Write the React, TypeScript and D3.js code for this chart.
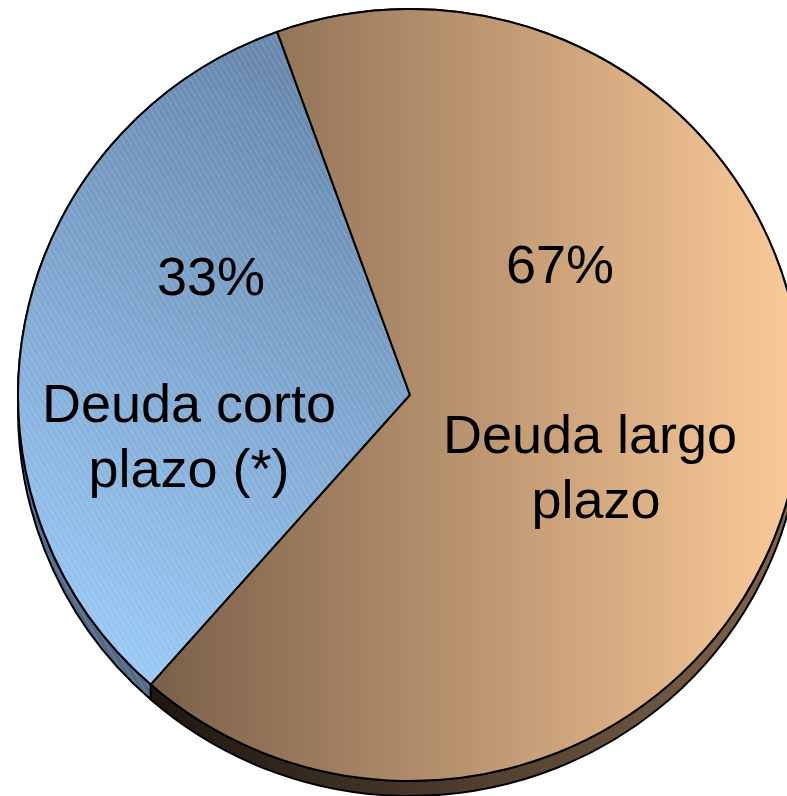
import * as d3 from 'd3';

// values
const categories = ['Deuda corto plazo (*)', 'Deuda largo plazo'];
const shares = [33, 67];
const pctLabels = ['33%', '67%'];
const nameLines = [['Deuda corto', 'plazo (*)'], ['Deuda largo', 'plazo']];

const W = 787, H = 796;
const cx = 410, cy = 395, rx = 392, ry = 386, depth = 15;
const startDeg = -138.6;

export default function App() {
  const pie = d3.pie<number>().sort(null)
    .startAngle(startDeg * Math.PI / 180)
    .endAngle((startDeg + 360) * Math.PI / 180);
  const slices = pie(shares);
  const arc = d3.arc<d3.PieArcDatum<number>>().innerRadius(0).outerRadius(rx);
  const sy = ry / rx;
  const d = depth / sy;

  // side band of a slice: outer rim on top, same rim pushed down by depth
  const bandPath = (a0: number, a1: number) => {
    const p = d3.path();
    p.moveTo(rx * Math.sin(a0), -rx * Math.cos(a0));
    p.arc(0, 0, rx, a0 - Math.PI / 2, a1 - Math.PI / 2);
    p.lineTo(rx * Math.sin(a1), -rx * Math.cos(a1) + d);
    p.arc(0, d, rx, a1 - Math.PI / 2, a0 - Math.PI / 2, true);
    p.closePath();
    return p.toString();
  };

  const faceFill = ['url(#blueFace)', 'url(#brownFace)'];
  const sideFill = ['#52698a', 'url(#brownSide)'];

  // label anchors (centre x, baseline y of first line)
  const pctPos = [[211, 295], [560, 283]];
  const namePos = [[189, 422], [590, 453]];

  return (
    <svg width={W} height={H} style={{ position: 'absolute', left: 0, top: 0, background: '#fff' }}
      fontFamily="'Liberation Sans', Arial, sans-serif">
      <defs>
        <linearGradient id="brownFace" gradientUnits="userSpaceOnUse" x1={152 - cx} y1={0} x2={800 - cx} y2={0}>
          <stop offset="0" stopColor="#7a6049" />
          <stop offset="1" stopColor="#fdcb99" />
        </linearGradient>
        <linearGradient id="brownSide" gradientUnits="userSpaceOnUse" x1={152 - cx} y1={0} x2={790 - cx} y2={0}>
          <stop offset="0" stopColor="#1e1610" />
          <stop offset="1" stopColor="#80654c" />
        </linearGradient>
        <linearGradient id="blueFace" gradientUnits="userSpaceOnUse" x1={60 - cx} y1={(640 - cy) / sy} x2={330 - cx} y2={(100 - cy) / sy}>
          <stop offset="0" stopColor="#99c9f6" />
          <stop offset="1" stopColor="#6888ae" />
        </linearGradient>
        <pattern id="hatch" width="5" height="5" patternUnits="userSpaceOnUse" patternTransform="rotate(-30)">
          <line x1="0" y1="0" x2="0" y2="5" stroke="#ffffff" strokeOpacity="0.4" strokeWidth="0.8" />
        </pattern>
      </defs>
      <g transform={`translate(${cx},${cy}) scale(1,${sy})`}>
        {slices.map((s, i) => (
          <g key={'side' + i}>
            <path d={bandPath(s.startAngle, s.endAngle)} fill={sideFill[i]} />
            {i === 0 && <path d={bandPath(s.startAngle, s.endAngle)} fill="url(#hatch)" />}
            <path d={bandPath(s.startAngle, s.endAngle)} fill="none" stroke="#000" strokeWidth={2} strokeLinejoin="round" />
          </g>
        ))}
        {slices.map((s, i) => (
          <g key={'face' + i}>
            <path d={arc(s) ?? ''} fill={faceFill[i]} />
            {i === 0 && <path d={arc(s) ?? ''} fill="url(#hatch)" />}
            <path d={arc(s) ?? ''} fill="none" stroke="#000" strokeWidth={2} strokeLinejoin="round" />
          </g>
        ))}
      </g>
      {slices.map((s, i) => (
        <g key={'lab' + i} fill="#000" fontSize={54} textAnchor="middle">
          <title>{categories[i]}</title>
          <text x={pctPos[i][0]} y={pctPos[i][1]}>{pctLabels[i]}</text>
          {nameLines[i].map((ln, j) => (
            <text key={j} x={namePos[i][0] + (i === 1 && j === 1 ? 6 : 0)} y={namePos[i][1] + j * 65}>{ln}</text>
          ))}
        </g>
      ))}
    </svg>
  );
}
